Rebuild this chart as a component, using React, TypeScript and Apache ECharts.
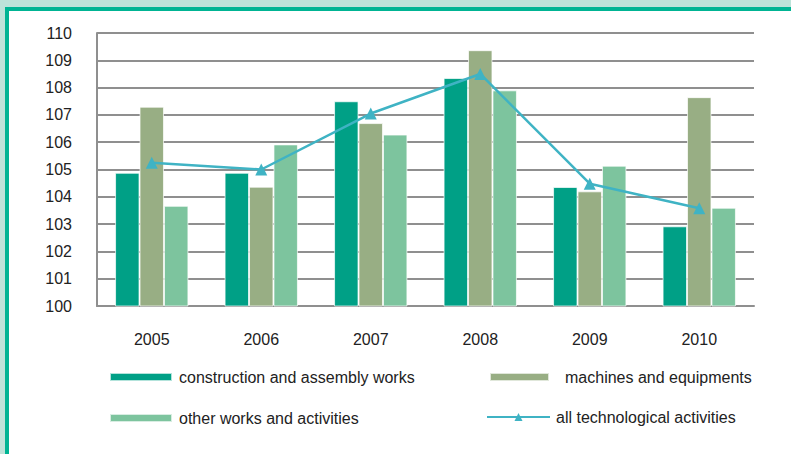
import React, { useEffect, useRef } from "react";
import * as echarts from "echarts";

const years = ["2005", "2006", "2007", "2008", "2009", "2010"];
const construction = [104.88, 104.88, 107.5, 108.35, 104.36, 102.92];
const machines = [107.3, 104.37, 106.7, 109.37, 104.2, 107.65];
const otherWorks = [103.67, 105.92, 106.28, 107.9, 105.14, 103.6];
const allTech = [105.25, 105.0, 107.05, 108.5, 104.48, 103.58];

const names = [
  "construction and assembly works",
  "machines and equipments",
  "other works and activities",
  "all technological activities",
];

export default function App() {
  const ref = useRef<HTMLDivElement>(null);
  useEffect(() => {
    document.body.style.margin = "0";
    const chart = echarts.init(ref.current!, null, { renderer: "svg" });
    const font = "Liberation Sans, Arial, sans-serif";
    const barBorder = { borderColor: "rgba(255,255,255,0.7)", borderWidth: 1 };
    const legendBase = {
      orient: "horizontal" as const,
      itemWidth: 62,
      itemHeight: 8,
      padding: 0,
      textStyle: { fontFamily: font, fontSize: 16, color: "#222" },
      selectedMode: false,
    };
    chart.setOption({
      animation: false,
      backgroundColor: "#BEE3D9",
      graphic: [
        { type: "rect", shape: { x: 5, y: 7, width: 800, height: 460 }, style: { fill: "#00B493" }, z: -10 },
        { type: "rect", shape: { x: 9, y: 11, width: 800, height: 460 }, style: { fill: "#ffffff" }, z: -9 },
      ],
      grid: { left: 97, right: 37, top: 33, bottom: 148 },
      legend: [
        { ...legendBase, data: [{ name: names[0], icon: "rect" }], left: 109, top: 369, textStyle: { ...legendBase.textStyle, padding: [0, 0, 0, 2] } },
        { ...legendBase, data: [{ name: names[1], icon: "rect" }], left: 489, top: 369, itemWidth: 59, textStyle: { ...legendBase.textStyle, padding: [0, 0, 0, 11] } },
        { ...legendBase, data: [{ name: names[2], icon: "rect" }], left: 109, top: 410, textStyle: { ...legendBase.textStyle, padding: [0, 0, 0, 2] } },
        { ...legendBase, data: [{ name: names[3] }], left: 486, top: 409, itemWidth: 63, itemHeight: 10, textStyle: { ...legendBase.textStyle, padding: [0, 0, 0, 1] } },
      ],
      xAxis: {
        type: "category",
        data: years,
        axisLine: { show: true, lineStyle: { color: "#8F8F8F", width: 2 } },
        axisTick: { show: false },
        axisLabel: { fontFamily: font, fontSize: 16, color: "#222", margin: 25 },
      },
      yAxis: {
        type: "value",
        min: 100,
        max: 110,
        interval: 1,
        axisLine: { show: true, lineStyle: { color: "#8F8F8F", width: 2 } },
        axisTick: { show: false },
        splitLine: { lineStyle: { color: "#8F8F8F", width: 2 } },
        axisLabel: { fontFamily: font, fontSize: 16, color: "#222", margin: 25 },
      },
      series: [
        { name: names[0], type: "bar", data: construction, barGap: "0%", barCategoryGap: "33%", itemStyle: { color: "#00A086", ...barBorder } },
        { name: names[1], type: "bar", data: machines, barGap: "0%", barCategoryGap: "33%", itemStyle: { color: "#98AE84", ...barBorder } },
        { name: names[2], type: "bar", data: otherWorks, barGap: "0%", barCategoryGap: "33%", itemStyle: { color: "#7DC49E", ...barBorder } },
        {
          name: names[3],
          type: "line",
          data: allTech,
          symbol: "triangle",
          symbolSize: 12,
          lineStyle: { color: "#3FB3C4", width: 2.5 },
          itemStyle: { color: "#3FB3C4" },
          z: 5,
        },
      ],
    });
    return () => chart.dispose();
  }, []);
  return <div ref={ref} style={{ width: 791, height: 454 }} />;
}
